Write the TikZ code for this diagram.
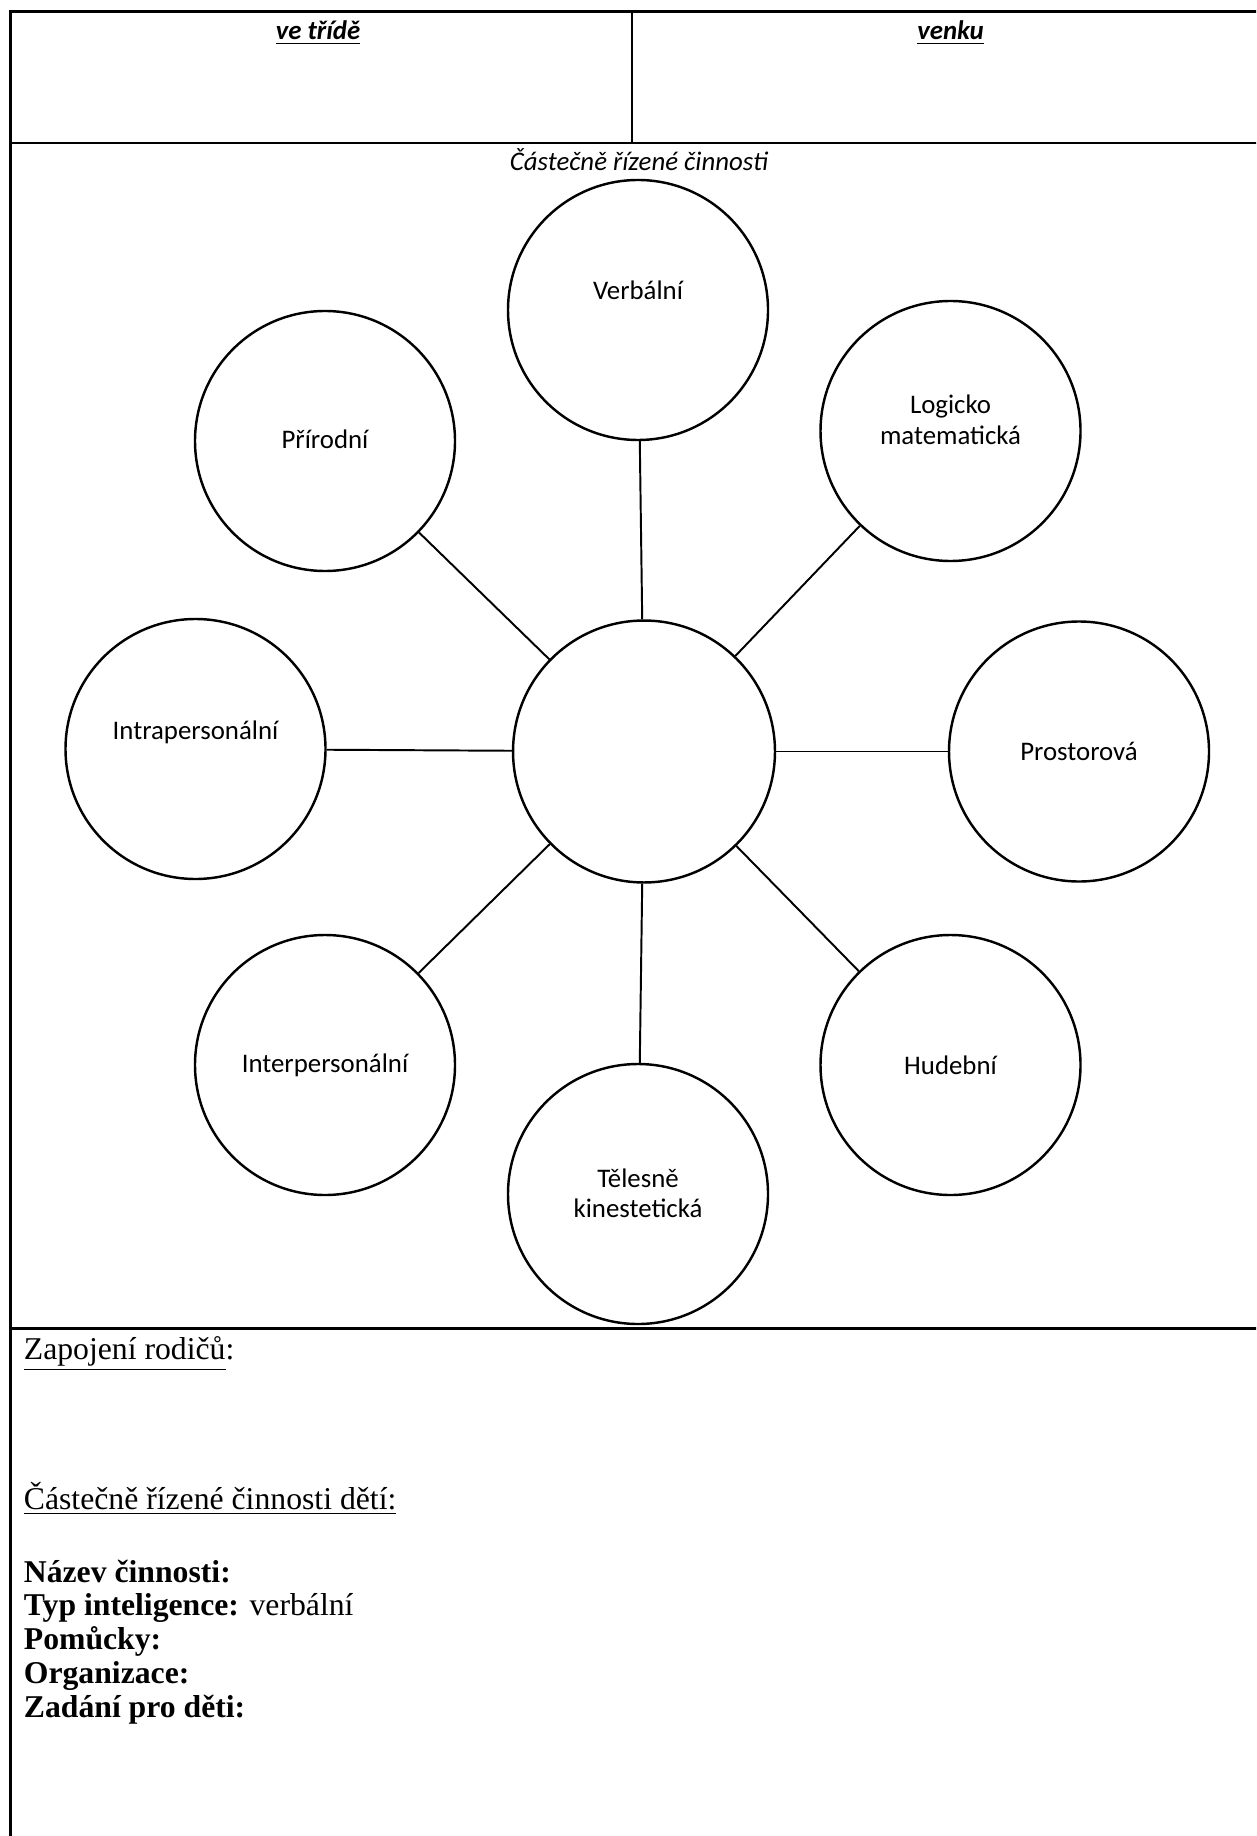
\documentclass[tikz,border=0pt]{standalone}
\usepackage{fontspec}
\setmainfont{Liberation Serif}
\newfontfamily\carlito{Carlito}
\usetikzlibrary{calc}
\usetikzlibrary{positioning}

\tikzset{
	bubble/.style={circle,draw,line width=1pt,minimum size=106.6pt,inner sep=0pt},
	blabel/.style={font=\carlito\fontsize{11}{12.5}\selectfont,align=center},
	spoke/.style={line width=0.8pt},
	rule/.style={line width=1pt},
	ftext/.style={anchor=west,inner sep=0pt,font=\fontsize{13}{13.9}\selectfont,align=left}
}

\begin{document}
\begin{tikzpicture}[x=0.41pt,y=-0.41pt]
	
	\clip (0,0) rectangle (1256,1836);
	
	% table frame
	\draw[rule] (10.5,1900) -- (10.5,11.7) -- (1268,11.7) -- (1268,1900);
	\draw[rule] (10.5,143) -- (1268,143);
	\draw[rule] (10.5,1328.6) -- (1268,1328.6);
	\draw[line width=0.6pt] (632,11.7) -- (632,143);
	
	\node [blabel] (trida) at (318,33) {\textbf{\textit{\underline{ve třídě}}}};
	\node [blabel] (venku) at (950.5,33) {\textbf{\textit{\underline{venku}}}};
	\node [blabel] (title) at (639,160) {\textit{Částečně řízené činnosti}};
	
	% circles
	\node [bubble,minimum size=107.4pt] (mid) at (644,751.5) {};
	\node [bubble,label={[blabel,yshift=8.2pt]center:Verbální}] (verb) at (638,310) {};
	\node [bubble,label={[blabel,yshift=4.5pt]center:{Logicko\\matematická}}] (logic) at (950.5,431) {};
	\node [bubble,label={[blabel,yshift=0.8pt]center:Přírodní}] (prir) at (325,441) {};
	\node [bubble,label={[blabel,yshift=7pt]center:Intrapersonální}] (intra) at (195.5,749) {};
	\node [bubble,label={[blabel]center:Prostorová}] (prost) at (1079,751.5) {};
	\node [bubble,label={[blabel]center:Interpersonální}] (inter) at (325,1065) {};
	\node [bubble,label={[blabel]center:Hudební}] (hud) at (950.5,1065) {};
	\node [bubble,label={[blabel,yshift=0.4pt]center:{Tělesně\\kinestetická}}] (tel) at (638,1194) {};
	
	\foreach \n in {verb,logic,prost,hud,tel,inter,intra,prir}
		\draw[spoke] (mid) -- (\n);
	
	% parents and activities
	\node [ftext] (rodice) at (23.4,1354) {\underline{Zapojení rodičů}:};
	\node [ftext] (cinnosti) at (23.4,1499) {\underline{Částečně řízené činnosti dětí:}};
	\node [ftext] (popis) at (23.4,1642) {\textbf{Název činnosti:}\\
		\textbf{Typ inteligence:} verbální\\
		\textbf{Pomůcky:}\\
		\textbf{Organizace:}\\
		\textbf{Zadání pro děti:}};
	
\end{tikzpicture}
\end{document}
